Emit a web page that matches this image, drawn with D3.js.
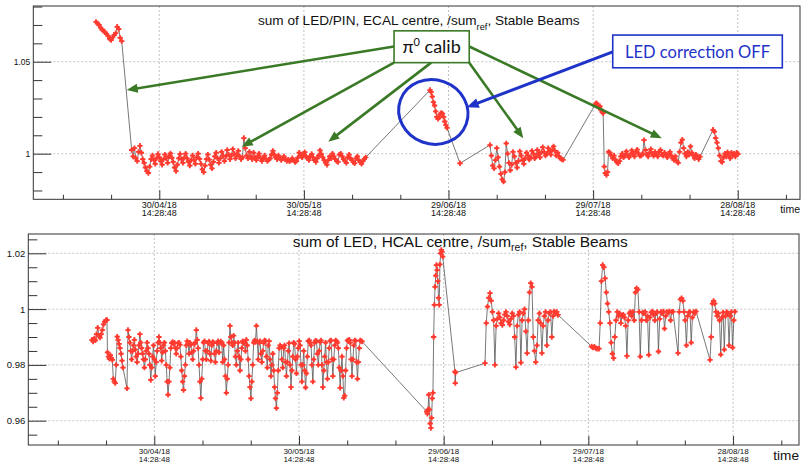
<!DOCTYPE html>
<html><head><meta charset="utf-8">
<script src="https://cdn.jsdelivr.net/npm/d3@7"></script>
<style>body{margin:0;background:#fff}svg{display:block}</style>
</head><body>
<svg id="c" width="804" height="464"></svg>
<script>
// ---------- DATA (time in days relative to 30/04/18 14:28:48) ----------
const t0 = Date.UTC(2018, 3, 30, 14, 28, 48);
const majorTickDays = [0, 30, 60, 90, 120];
const minorTickDays = [-20, -10, 10, 20, 40, 50, 70, 80, 100, 110, 130];
const ecalYMajor = [1, 1.05];
const ecalYMinor = [0.98, 0.99, 1.01, 1.02, 1.03, 1.04, 1.06, 1.07, 1.08];
const hcalYMajor = [0.96, 0.98, 1, 1.02];
const hcalYMinor = [0.955, 0.965, 0.97, 0.975, 0.985, 0.99, 0.995, 1.005, 1.01, 1.015, 1.025];

// ECAL: runs of measurements [first day, last day] and their values
const ecalRunSpans = [[-13.13, -7.80], [-5.73, 42.82], [56.16, 59.69], [62.39, 62.39], [68.61, 83.76], [90.50, 92.99], [93.20, 112.18], [114.88, 120.06]];
const ecalRun1 = [1.0717,1.0708,1.0700,1.0685,1.0675,1.0668,1.0660,1.0650,1.0640,1.0625,1.0618,1.0632,1.0645,1.0655,1.0690,1.0678,1.0630,1.0612];
const ecalRun2 = [1.0020,0.9985,1.0030,0.9975,0.9960,1.0010,1.0043,1.0005,0.9970,0.9950,
0.9925,0.9905,0.9895,0.9930,0.9970,0.9990,0.9965,0.9945,0.9975,0.9998,
0.9980,0.9960,0.9940,0.9970,0.9995,0.9975,0.9950,0.9985,1.0002,0.9978,
0.9955,0.9925,0.9905,0.9940,0.9975,0.9998,0.9970,0.9950,0.9978,1.0000,
0.9975,0.9955,0.9935,0.9965,0.9990,0.9965,0.9945,0.9980,1.0000,0.9972,
0.9945,0.9915,0.9900,0.9935,0.9970,0.9995,0.9968,0.9940,0.9920,0.9955,
0.9985,1.0005,0.9975,0.9950,0.9975,1.0010,0.9990,0.9960,0.9985,1.0020,
0.9995,0.9970,0.9990,1.0025,1.0000,0.9975,0.9995,1.0015,0.9985,0.9970,
0.9980,1.0085,1.0030,0.9990,0.9975,1.0010,0.9985,0.9970,1.0005,0.9980,
0.9965,0.9985,1.0000,0.9978,0.9960,0.9975,0.9990,0.9970,0.9960,0.9968,
0.9975,0.9995,1.0015,0.9995,0.9980,0.9970,0.9990,0.9978,0.9965,0.9975,
0.9985,0.9972,0.9960,0.9968,0.9958,0.9965,0.9975,0.9962,0.9955,0.9960,
0.9978,1.0005,0.9992,0.9980,0.9995,1.0008,0.9985,0.9975,0.9965,0.9985,
0.9998,0.9980,0.9965,0.9955,0.9975,0.9990,1.0018,0.9998,0.9980,0.9965,
0.9952,0.9940,0.9965,0.9985,0.9975,1.0000,0.9985,0.9970,0.9960,0.9955,
0.9995,1.0000,0.9985,0.9970,0.9960,0.9950,0.9980,0.9995,0.9975,0.9965,
0.9955,0.9948,0.9975,0.9985,0.9965,0.9955,0.9945,0.9960,0.9970,0.9980];
const ecalRun3 = [1.0346,1.0335,1.0310,1.0280,1.0262,1.0230,1.0200,1.0190,1.0196,1.0215,1.0222,1.0218,1.0200,1.0175,1.0155,1.0140];
const ecalRun4 = [0.9948];
const ecalRun5 = [1.0047,0.9990,0.9935,0.9920,0.9965,1.0030,0.9980,0.9930,0.9890,0.9860,
0.9848,0.9900,1.0056,1.0000,0.9950,0.9910,0.9940,1.0010,0.9985,0.9950,
0.9925,0.9960,1.0012,0.9990,0.9965,0.9945,0.9975,1.0005,0.9990,0.9968,
0.9980,1.0015,1.0000,0.9975,0.9985,1.0020,0.9998,0.9980,1.0008,1.0035,
1.0010,0.9990,1.0000,1.0030,1.0012,0.9995,1.0020,1.0040,1.0015,0.9990,
1.0005,0.9985,0.9975,0.9970,0.9966];
const ecalRun6 = [1.0270,1.0275,1.0262,1.0250,1.0258,1.0240,1.0228,1.0220,0.9930,0.9895,0.9884,0.9900];
const ecalRun7 = [1.0010,1.0005,0.9990,0.9975,0.9990,0.9968,0.9955,0.9948,
0.9960,0.9985,1.0000,0.9980,0.9990,1.0012,0.9992,0.9980,
0.9995,1.0018,0.9998,0.9985,1.0010,1.0022,1.0000,0.9988,0.9990,1.0000,
1.0074,
1.0020,0.9995,0.9985,1.0005,1.0025,1.0000,0.9988,1.0010,0.9995,
0.9985,1.0010,1.0020,0.9995,0.9990,1.0005,0.9992,0.9980,0.9998,1.0010,0.9990,0.9975,0.9965,0.9985,0.9960,
0.9950,1.0010,1.0060,1.0076,
1.0030,1.0000,0.9985,1.0010,0.9995,1.0040,1.0005,0.9990,0.9975,0.9995,0.9985,0.9970,0.9984];
const ecalRun8 = [1.0130,1.0120,1.0085,1.0060,1.0030,0.9990,0.9960,0.9955,0.9980,1.0000,0.9985,1.0008,0.9990,0.9975,1.0005,0.9990,1.0000,0.9985,1.0005,0.9998];

// HCAL runs
const hcalRunSpans = [[-12.92, -9.81], [-9.70, -6.49], [-5.66, -5.66], [-5.45, 43.07], [56.48, 59.80], [62.35, 62.45], [68.57, 83.70], [90.69, 91.79], [92.21, 107.55], [108.59, 112.32], [115.22, 120.40]];
const hcalRun1 = [0.9890,0.9884,0.9895,0.9888,0.9910,0.9933,0.9905,0.9898,0.9910,0.9925,0.9945,0.9955,0.9960,0.9961];
const hcalRun2 = [0.9845,0.9830,0.9822,0.9835,0.9825,0.9818,0.9750,0.9740,0.9735,0.9800,0.9901,0.9890,0.9875,0.9860,0.9840,0.9815,0.9790];
const hcalRun3 = [0.9716];
const hcalRun4 = [0.9925,0.9900,0.9880,0.9850,0.9820,0.9850,0.9870,0.9890,0.9855,0.9830,0.9810,0.9840,0.9870,0.9910,0.9880,0.9860,
0.9840,0.9820,0.9790,0.9820,0.9850,0.9880,0.9860,0.9840,0.9800,0.9746,0.9790,0.9830,0.9870,0.9820,0.9760,0.9810,0.9850,
0.9880,0.9900,0.9880,0.9860,0.9815,0.9845,0.9870,0.9880,0.9850,0.9800,0.9740,0.9693,0.9740,0.9790,0.9860,
0.9878,0.9882,0.9875,0.9880,0.9860,0.9840,0.9860,0.9878,0.9880,0.9872,0.9830,
0.9780,0.9740,0.9710,0.9760,0.9800,0.9870,0.9885,0.9878,0.9840,0.9880,0.9872,0.9845,0.9820,0.9850,0.9875,
0.9880,0.9925,0.9890,0.9860,0.9800,0.9740,0.9681,0.9750,0.9820,0.9880,0.9885,0.9850,0.9820,0.9850,0.9878,0.9884,
0.9840,0.9815,0.9870,0.9882,0.9880,0.9840,0.9810,0.9850,0.9878,0.9885,0.9845,0.9880,0.9884,
0.9880,0.9810,0.9870,0.9820,0.9760,0.9700,0.9750,0.9800,0.9880,0.9940,0.9900,0.9880,0.9870,0.9905,
0.9880,0.9830,0.9800,0.9850,0.9880,0.9830,0.9780,0.9820,0.9860,0.9885,0.9878,0.9880,
0.9850,0.9890,0.9870,0.9820,0.9760,0.9720,0.9680,0.9740,0.9800,0.9880,0.9888,0.9882,0.9940,
0.9885,0.9820,0.9880,0.9885,0.9840,0.9810,0.9850,0.9878,0.9888,0.9886,0.9830,0.9790,
0.9870,0.9885,0.9820,0.9760,0.9800,0.9840,0.9780,0.9720,0.9680,0.9645,0.9700,0.9780,0.9860,0.9870,0.9865,0.9820,0.9790,
0.9860,0.9870,0.9810,0.9760,0.9810,0.9850,0.9878,0.9800,0.9720,0.9780,0.9830,0.9880,0.9875,0.9820,0.9770,
0.9830,0.9860,0.9885,0.9870,0.9800,0.9740,0.9800,0.9850,0.9780,0.9719,0.9770,0.9830,0.9885,0.9888,0.9880,
0.9870,0.9800,0.9740,0.9820,0.9880,0.9887,0.9885,0.9840,0.9800,0.9850,0.9882,0.9888,0.9800,0.9720,0.9780,0.9830,
0.9880,0.9810,0.9750,0.9810,0.9860,0.9886,0.9888,0.9820,0.9760,0.9820,0.9870,0.9888,0.9885,
0.9880,0.9860,0.9790,0.9718,0.9780,0.9830,0.9760,0.9682,0.9690,0.9780,0.9860,0.9888,0.9885,0.9890,
0.9880,0.9820,0.9760,0.9820,0.9870,0.9888,0.9886,0.9810,0.9750,0.9810,0.9860,0.9888,0.9885,0.9884];
const hcalRun5 = [0.9633,0.9625,0.9640,0.9693,0.9640,0.9590,0.9574,0.9610,0.9680,0.9700,0.9900,1.0015,1.0080,1.0120,1.0158,1.0140,1.0100,1.0040,1.0015,1.0160,1.0200,1.0212,1.0205,1.0188];
const hcalRun6 = [0.9776,0.9735,0.9772];
const hcalRun7 = [0.9806,0.9950,1.0009,1.0040,1.0057,1.0030,0.9990,0.9960,0.9800,0.9940,
0.9965,0.9985,0.9970,0.9950,0.9943,0.9960,0.9980,0.9990,0.9975,0.9955,
0.9945,0.9965,0.9985,0.9975,0.9900,0.9792,0.9940,0.9980,0.9990,0.9808,
0.9960,0.9985,1.0000,0.9920,0.9842,0.9960,1.0060,1.0093,1.0080,0.9900,
0.9850,0.9810,0.9870,0.9960,0.9985,0.9950,0.9842,0.9940,0.9975,0.9990,
0.9870,0.9960,0.9985,0.9990,0.9900,0.9975,0.9992,0.9985,0.9990,0.9979];
const hcalRun8 = [0.9866,0.9862,0.9865,0.9860,0.9858];
const hcalRun9 = [0.9858,0.9950,1.0100,1.0158,1.0150,1.0110,1.0060,1.0020,0.9990,0.9950,0.9880,0.9840,0.9824,
0.9900,0.9960,0.9990,0.9975,0.9985,0.9950,0.9975,0.9980,0.9970,0.9940,
0.9832,
0.9960,0.9985,0.9990,0.9975,0.9990,0.9960,
1.0060,1.0075,1.0070,
0.9990,0.9830,
0.9960,0.9988,0.9985,0.9990,0.9960,0.9975,
0.9836,
0.9970,0.9988,0.9992,0.9980,0.9960,0.9985,0.9990,
0.9848,
0.9965,0.9990,0.9985,0.9992,0.9930,0.9975,0.9990,0.9988,0.9992,0.9960,0.9990,0.9991];
const hcalRun10 = [0.9842,0.9990,1.0035,1.0039,1.0030,0.9990,0.9960,0.9870,0.9975,0.9988,0.9990,0.9880,0.9970,0.9990,0.9985,0.9992];
const hcalRun11 = [0.9818,0.9900,1.0020,1.0029,1.0020,0.9990,0.9975,0.9985,0.9960,0.9837,0.9970,0.9988,0.9855,0.9975,0.9990,0.9985,0.9870,0.9975,0.9990,0.9862,0.9960,0.9991];

const ecalRuns = [ecalRun1, ecalRun2, ecalRun3, ecalRun4, ecalRun5, ecalRun6, ecalRun7, ecalRun8];
const hcalRuns = [hcalRun1, hcalRun2, hcalRun3, hcalRun4, hcalRun5, hcalRun6, hcalRun7, hcalRun8, hcalRun9, hcalRun10, hcalRun11];

// annotations, in ECAL data coordinates (day, value)
const piCalibBox = [[48.7, 1.0668], [64.3, 1.0495]];
const piCalibArrows = [[[48.7, 1.0583], [-6.76, 1.0346]], [[48.7, 1.0495], [17.1, 1.0038]], [[56.4, 1.0495], [35.06, 1.0065]], [[64.3, 1.0495], [75.52, 1.0084]], [[64.3, 1.0583], [104.23, 1.0084]]];
const ledOffBox = [[94.07, 1.0645], [129.25, 1.0467]];
const ledOffArrow = [[94.07, 1.0554], [63.78, 1.0252]];
const ledOffEllipse = {c: [56.85, 1.0227], rx: 7.26, ry: 0.0174};

// ---------- DRAWING ----------
const svg = d3.select("#c");
const fmtDate = d3.utcFormat("%d/%m/%y"), fmtTime = d3.utcFormat("%H:%M:%S");
const toDate = d => new Date(t0 + d * 864e5);
const RED = "#ff3b30", GREEN = "#3a7a26", BLUE = "#1f33c8";

function buildPoints(spans, runs) {
  const pts = [];
  runs.forEach((vals, i) => {
    const [a, b] = spans[i], n = vals.length;
    vals.forEach((v, j) => pts.push([n > 1 ? a + (b - a) * j / (n - 1) : a, v]));
  });
  return pts;
}

function panel(cfg) {
  const x = d3.scaleLinear().domain(cfg.xDomain).range([cfg.left, cfg.right]);
  const y = d3.scaleLinear().domain(cfg.yDomain).range([cfg.bottom, cfg.top]);
  const g = svg.append("g");
  const cid = "clip_" + cfg.name;
  svg.append("clipPath").attr("id", cid).append("rect")
    .attr("x", cfg.left).attr("y", cfg.top).attr("width", cfg.right - cfg.left).attr("height", cfg.bottom - cfg.top);
  const grid = g.append("g").attr("stroke", "#b4b4b4").attr("stroke-width", 0.8).attr("stroke-dasharray", "2,2");
  grid.selectAll(".gx").data(majorTickDays).join("line").attr("x1", d => x(d)).attr("x2", d => x(d)).attr("y1", cfg.top).attr("y2", cfg.bottom);
  grid.append("g").selectAll("line").data(cfg.yMajor).join("line").attr("y1", d => y(d)).attr("y2", d => y(d)).attr("x1", cfg.left).attr("x2", cfg.right);
  const pts = buildPoints(cfg.spans, cfg.runs);
  const dg = g.append("g").attr("clip-path", `url(#${cid})`);
  dg.append("path").attr("d", d3.line().x(d => x(d[0])).y(d => y(d[1]))(pts))
    .attr("fill", "none").attr("stroke", "#555").attr("stroke-width", 0.8);
  const cross = d3.symbol(d3.symbolCross).size(16)();
  const sq = d3.symbol(d3.symbolSquare).size(7)();
  const mk = dg.append("g").attr("fill", RED).selectAll("g").data(pts).join("g")
    .attr("transform", d => `translate(${x(d[0])},${y(d[1])})`);
  mk.append("path").attr("d", cross);
  mk.append("path").attr("d", sq);
  g.append("rect").attr("x", cfg.left).attr("y", cfg.top).attr("width", cfg.right - cfg.left).attr("height", cfg.bottom - cfg.top)
    .attr("fill", "none").attr("stroke", "#333").attr("stroke-width", 1);
  g.append("g").attr("transform", `translate(0,${cfg.bottom})`)
    .call(d3.axisBottom(x).tickValues(majorTickDays).tickSize(-9).tickFormat(""));
  g.append("g").attr("transform", `translate(0,${cfg.bottom})`)
    .call(d3.axisBottom(x).tickValues(minorTickDays).tickSize(-4.5).tickFormat(""));
  const lab = g.append("g").attr("font-family", "Liberation Sans, Arial, sans-serif").attr("font-size", cfg.xFont).attr("fill", "#111").attr("text-anchor", "middle");
  const lt = lab.selectAll("text").data(majorTickDays).join("text").attr("x", d => x(d)).attr("y", cfg.bottom + cfg.xPad);
  lt.append("tspan").attr("x", d => x(d)).attr("dy", "0.75em").text(d => fmtDate(toDate(d)));
  lt.append("tspan").attr("x", d => x(d)).attr("dy", cfg.xLine).text(d => fmtTime(toDate(d)));
  g.append("g").attr("transform", `translate(${cfg.left},0)`)
    .call(d3.axisLeft(y).tickValues(cfg.yMajor).tickSize(-cfg.yMajorLen).tickPadding(cfg.yPad).tickFormat(d3.format("")))
    .call(a => a.selectAll("text").attr("font-family", "Liberation Sans, Arial, sans-serif").attr("font-size", cfg.yFont).attr("fill", "#111"));
  g.append("g").attr("transform", `translate(${cfg.left},0)`)
    .call(d3.axisLeft(y).tickValues(cfg.yMinor).tickSize(-cfg.yMajorLen / 2).tickFormat(""));
  g.selectAll(".domain").remove();
  g.selectAll(".tick line").attr("stroke", "#333");
  const tt = g.append("text").attr("x", cfg.titleX).attr("y", cfg.titleY).attr("font-family", "Liberation Sans, Arial, sans-serif")
    .attr("font-size", cfg.titleFont).attr("fill", "#111");
  tt.append("tspan").text(cfg.title[0]);
  tt.append("tspan").attr("font-size", cfg.titleFont * 0.68).attr("dy", cfg.subDy).text("ref");
  tt.append("tspan").attr("dy", -cfg.subDy).text(cfg.title[1]);
  g.append("text").attr("x", cfg.right).attr("y", cfg.timeY).attr("text-anchor", "end")
    .attr("font-family", "Liberation Sans, Arial, sans-serif").attr("font-size", cfg.timeFont).attr("fill", "#111").text("time");
  return {x, y, g};
}

const ecalPanel = panel({
  name: "ecal", left: 33.3, right: 800, top: 6, bottom: 199.3,
  xDomain: [-26.14, 132.92], yDomain: [0.9752, 1.0803],
  yMajor: ecalYMajor, yMinor: ecalYMinor, spans: ecalRunSpans, runs: ecalRuns,
  xPad: 1.5, xFont: 9, xLine: "0.95em", yPad: 3, yFont: 8.5, yMajorLen: 18,
  title: ["sum of LED/PIN, ECAL centre, /sum", ", Stable Beams"], titleX: 258, titleY: 25, titleFont: 13.6, subDy: 5,
  timeY: 213, timeFont: 10.5
});
const hcalPanel = panel({
  name: "hcal", left: 28.3, right: 799, top: 234, bottom: 445,
  xDomain: [-26.12, 133.67], yDomain: [0.95129, 1.02692],
  yMajor: hcalYMajor, yMinor: hcalYMinor, spans: hcalRunSpans, runs: hcalRuns,
  xPad: 3, xFont: 8, xLine: "1.02em", yPad: 3, yFont: 9.5, yMajorLen: 18,
  title: ["sum of LED, HCAL centre, /sum", ", Stable Beams"], titleX: 292.7, titleY: 246.5, titleFont: 15.4, subDy: 4.5,
  timeY: 460, timeFont: 13.6
});

// ---------- ANNOTATIONS (top panel) ----------
const X = ecalPanel.x, Y = ecalPanel.y;
const ann = svg.append("g");
function arrow(p0, p1, color, w, hl, hw) {
  const x0 = X(p0[0]), y0 = Y(p0[1]), x1 = X(p1[0]), y1 = Y(p1[1]);
  const dx = x1 - x0, dy = y1 - y0, L = Math.hypot(dx, dy), ux = dx / L, uy = dy / L;
  const bx = x1 - ux * hl, by = y1 - uy * hl;
  ann.append("line").attr("x1", x0).attr("y1", y0).attr("x2", bx + ux).attr("y2", by + uy)
    .attr("stroke", color).attr("stroke-width", w);
  ann.append("path").attr("d", `M${x1},${y1}L${bx - uy * hw},${by + ux * hw}L${bx + uy * hw},${by - ux * hw}Z`).attr("fill", color);
}
piCalibArrows.forEach(a => arrow(a[0], a[1], GREEN, 2.6, 11, 4.5));
arrow(ledOffArrow[0], ledOffArrow[1], BLUE, 3, 12, 5);
const ec = ledOffEllipse;
ann.append("ellipse").attr("cx", X(ec.c[0])).attr("cy", Y(ec.c[1]))
  .attr("rx", X(ec.c[0] + ec.rx) - X(ec.c[0])).attr("ry", Y(ec.c[1]) - Y(ec.c[1] + ec.ry))
  .attr("transform", `rotate(20,${X(ec.c[0])},${Y(ec.c[1])})`)
  .attr("fill", "none").attr("stroke", BLUE).attr("stroke-width", 3);
function box(b, color) {
  ann.append("rect").attr("x", X(b[0][0])).attr("y", Y(b[0][1])).attr("width", X(b[1][0]) - X(b[0][0])).attr("height", Y(b[1][1]) - Y(b[0][1]))
    .attr("fill", "#fff").attr("stroke", color).attr("stroke-width", 1.6);
}
box(piCalibBox, GREEN);
box(ledOffBox, BLUE);
const pcx = (X(piCalibBox[0][0]) + X(piCalibBox[1][0])) / 2;
const pt = ann.append("text").attr("x", pcx).attr("y", Y(piCalibBox[1][1]) - 9.5).attr("text-anchor", "middle")
  .attr("font-family", "Lato, Open Sans, DejaVu Sans, sans-serif").attr("font-size", 18).attr("fill", "#111");
pt.append("tspan").text("π");
pt.append("tspan").attr("font-size", 11).attr("dy", -7).text("0");
pt.append("tspan").attr("dy", 7).text(" calib");
const lcx = (X(ledOffBox[0][0]) + X(ledOffBox[1][0])) / 2;
ann.append("text").attr("x", lcx).attr("y", Y(ledOffBox[1][1]) - 9.5).attr("text-anchor", "middle")
  .attr("font-family", "Lato, Open Sans, sans-serif").attr("font-size", 16.5).attr("fill", BLUE).text("LED correction OFF");
</script>
</body></html>
